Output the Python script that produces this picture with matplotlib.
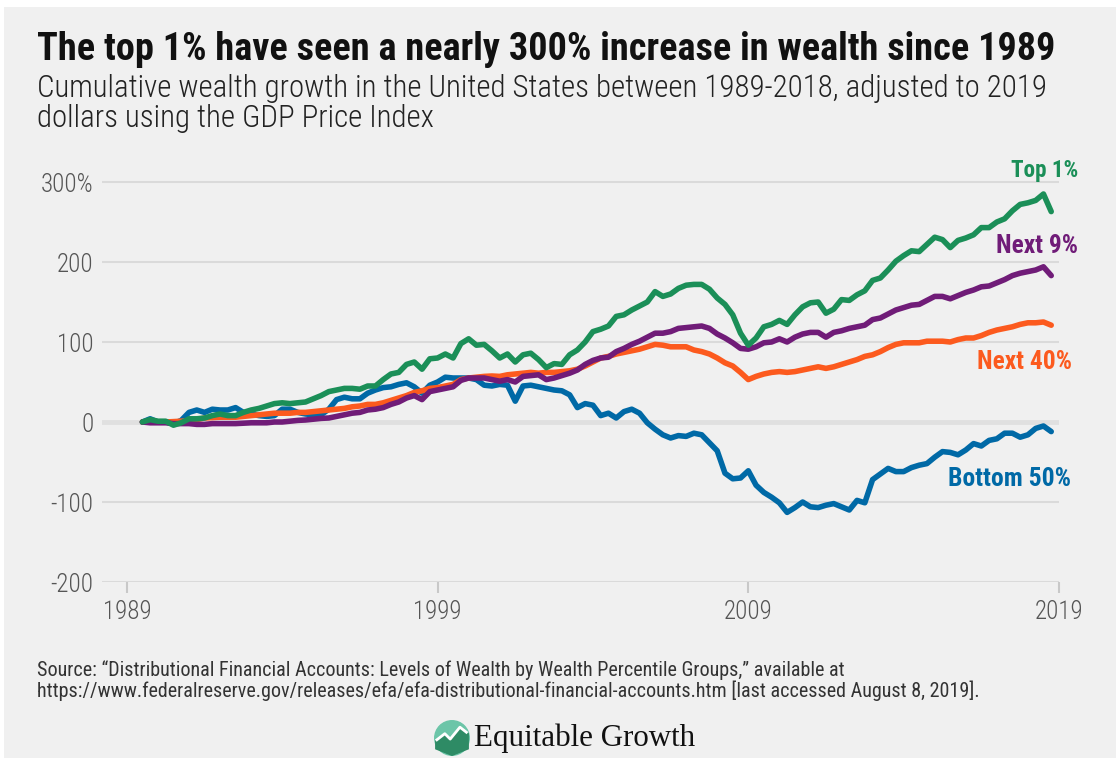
import numpy as np
import matplotlib.pyplot as plt
from matplotlib.patches import Rectangle, Circle, Polygon

# quarterly, 1989 Q3 to 2018 Q4, cumulative growth in percent
start_year = 1989.5
top1 = [0, 3, 1, 1, -4, -1, 4, 4, 5, 8, 10, 8, 8, 12, 15, 17, 20, 23, 24, 23,
        24, 25, 29, 33, 38, 40, 42, 42, 41, 45, 45, 53, 60, 62, 72, 75, 66, 79, 80, 85,
        80, 98, 104, 96, 97, 89, 80, 85, 75, 84, 86, 78, 68, 73, 72, 84, 90, 100, 113, 116,
        120, 132, 134, 140, 145, 150, 163, 157, 160, 167, 171, 172, 172, 166, 155, 147, 134, 111, 96, 105,
        119, 122, 127, 122, 134, 144, 149, 150, 136, 141, 153, 152, 159, 164, 177, 180, 190, 201, 208, 214,
        213, 222, 231, 228, 218, 227, 230, 234, 243, 243, 250, 254, 264, 272, 274, 277, 285, 263]
next9 = [0, -1, -1, -1, -2, -2, -2, -3, -3, -2, -2, -2, -2, -1.5, -1, -1, -1, 0, 0, 1,
         2, 2.5, 3.5, 4.5, 5, 7, 9, 11, 12, 15, 16, 18, 22, 25, 30, 33, 28, 38, 40, 42,
         44, 52, 55, 55, 55, 53, 51, 53, 50, 57, 58, 59, 53, 55, 58, 61, 65, 72, 77, 80,
         81, 88, 92, 97, 101, 106, 111, 111, 113, 117, 118, 119, 120, 117, 110, 105, 99, 92, 91, 94,
         99, 100, 104, 100, 106, 110, 112, 112, 106, 112, 114, 117, 119, 121, 128, 130, 135, 140, 143, 146,
         147, 152, 157, 157, 154, 158, 162, 165, 169, 170, 174, 178, 183, 186, 188, 190, 194, 183]
next40 = [0, 0, 0, 0, 0.5, 1, 1.5, 3, 5, 5.5, 6, 6, 6, 7, 8, 9, 10, 11, 11, 11,
          12, 12, 13, 14, 15, 16, 17, 19, 20, 22, 22, 24, 27, 30, 33, 37, 39, 42, 43, 45,
          47, 53, 55, 56, 57, 57.5, 57, 59, 60, 61, 62, 61, 62, 62, 63, 64, 66, 70, 75, 80,
          82, 85, 87, 89, 91, 94, 97, 96, 94, 94, 94, 90, 88, 85, 80, 74, 70, 62, 53, 57,
          60, 62, 63, 62, 63, 65, 67, 69, 67, 69, 72, 75, 78, 82, 84, 88, 93, 97, 99, 99,
          99, 101, 101, 101, 100, 103, 105, 105, 108, 112, 115, 117, 119, 122, 124, 124, 125, 121]
bottom50 = [0, 4, 0, 0, -2, 2, 12, 15, 12, 16, 15, 15, 18, 12, 10, 8, 7, 8, 16, 16,
            12, 10, 9, 9, 16, 28, 31, 29, 29, 36, 40, 43, 44, 47, 49, 44, 36, 46, 50, 56,
            55, 55, 55, 53, 46, 45, 47, 46, 26, 45, 46, 44, 42, 40, 39, 34, 18, 23, 21, 8,
            11, 5, 13, 16, 11, -1, -9, -16, -20, -17, -18, -14, -16, -26, -36, -64, -71, -70, -61, -79,
            -88, -94, -101, -113, -107, -100, -106, -107, -104, -102, -106, -110, -98, -101, -72, -65, -58, -62, -62, -57,
            -54, -52, -44, -37, -38, -41, -35, -27, -30, -23, -21, -14, -14, -19, -16, -8, -5, -12]

series = [("Top 1%", top1, "#1b8f58"),
          ("Next 9%", next9, "#701c78"),
          ("Next 40%", next40, "#fc5a1e"),
          ("Bottom 50%", bottom50, "#0069a6")]

years = start_year + 0.25 * np.arange(len(top1))
yticks = [-200, -100, 0, 100, 200, 300]
ytick_labels = ["-200", "-100", "0", "100", "200", "300%"]
xticks = [1989, 1999, 2009, 2019]

W, H = 1116, 758
bg = "#f0f0f0"
sans = ["Roboto Condensed", "Roboto", "DejaVu Sans"]
plt.rcParams["font.family"] = sans

fig = plt.figure(figsize=(W / 100, H / 100), dpi=100)
fig.patch.set_facecolor("white")
fig.patches.append(Rectangle((4 / W, 0), 1, 1 - 7 / H, transform=fig.transFigure,
                             facecolor=bg, edgecolor="none", zorder=-10))
renderer = fig.canvas.get_renderer()


def px(x, y):
    return x / W, 1 - y / H


def fit_text(x, y, s, width, size, **kw):
    # place text and scale its size so it spans the given width in pixels
    t = fig.text(*px(x, y), s, fontsize=size, **kw)
    w = t.get_window_extent(renderer).width
    t.set_fontsize(size * width / w)
    return t


ax = fig.add_axes([102 / W, 1 - 582 / H, (1059 - 102) / W, (582 - 166) / H])
ax.patch.set_alpha(0)
ax.set_xlim(1988.2, 2019)
ax.set_ylim(-200, 320)
for s in ax.spines.values():
    s.set_visible(False)

for v in yticks:
    ax.axhline(v, color="#dadada" if v != 0 else "#e0e0e0", lw=1.5 if v != 0 else 3.5, zorder=1)

for name, vals, col in series[::-1]:
    ax.plot(years, vals, color=col, lw=4, solid_joinstyle="round", solid_capstyle="round", zorder=3)

ax.set_yticks(yticks)
ax.set_yticklabels(ytick_labels)
ax.set_xticks(xticks)
ax.set_xticklabels([str(x) for x in xticks])
ax.tick_params(axis="y", length=0, pad=6, labelsize=18, labelcolor="#555555")
ax.tick_params(axis="x", length=8, width=1.5, color="#c8c8c8", pad=5, labelsize=18, labelcolor="#555555")
for lab in ax.get_xticklabels() + ax.get_yticklabels():
    lab.set_fontweight("light")

# line labels (right edge, vertical centre, width in pixels)
label_pos = {"Top 1%": (1078, 171, 67), "Next 9%": (1078, 246, 82),
             "Next 40%": (1072, 362, 95), "Bottom 50%": (1071, 479, 123)}
for name, vals, col in series:
    x, y, w = label_pos[name]
    fit_text(x, y, name, w, 15, color=col, fontweight="bold", ha="right", va="center")

fit_text(37, 60, "The top 1% have seen a nearly 300% increase in wealth since 1989", 1020, 25,
         fontweight="bold", color="#111111", ha="left", va="baseline")
fit_text(37, 97, "Cumulative wealth growth in the United States between 1989-2018, adjusted to 2019",
         1011, 19, color="#222222", fontweight="light", ha="left", va="baseline")
fig.text(*px(37, 127), "dollars using the GDP Price Index", fontweight="light",
         fontsize=fig.texts[-1].get_fontsize(), color="#222222", ha="left", va="baseline")

fit_text(37, 676, "Source: \u201cDistributional Financial Accounts: Levels of Wealth by Wealth Percentile Groups,\u201d available at",
         806, 11.5, color="#333333", ha="left", va="baseline")
fig.text(*px(37, 697), "https://www.federalreserve.gov/releases/efa/efa-distributional-financial-accounts.htm [last accessed August 8, 2019].",
         fontsize=fig.texts[-1].get_fontsize(), color="#333333", ha="left", va="baseline")

# logo
logo_ax = fig.add_axes([434 / W, 1 - 756 / H, 36 / W, 36 / H])
logo_ax.set_xlim(0, 1)
logo_ax.set_ylim(0, 1)
logo_ax.axis("off")
logo_ax.add_patch(Circle((0.5, 0.5), 0.48, color="#6cc5a8"))
logo_ax.add_patch(Polygon([(0.05, 0.42), (0.3, 0.6), (0.45, 0.45), (0.72, 0.78), (0.95, 0.62),
                           (0.95, 0.2), (0.5, 0.02), (0.05, 0.2)], closed=True, color="#2e8b65"))
logo_ax.plot([0.08, 0.3, 0.45, 0.72, 0.9], [0.45, 0.62, 0.47, 0.8, 0.66], color="white", lw=2)
fit_text(474, 746, "Equitable Growth", 221, 21, color="#111111",
         ha="left", va="baseline", family=["Liberation Serif", "DejaVu Serif"])

fig.savefig("out.png", dpi=100, facecolor="white")
